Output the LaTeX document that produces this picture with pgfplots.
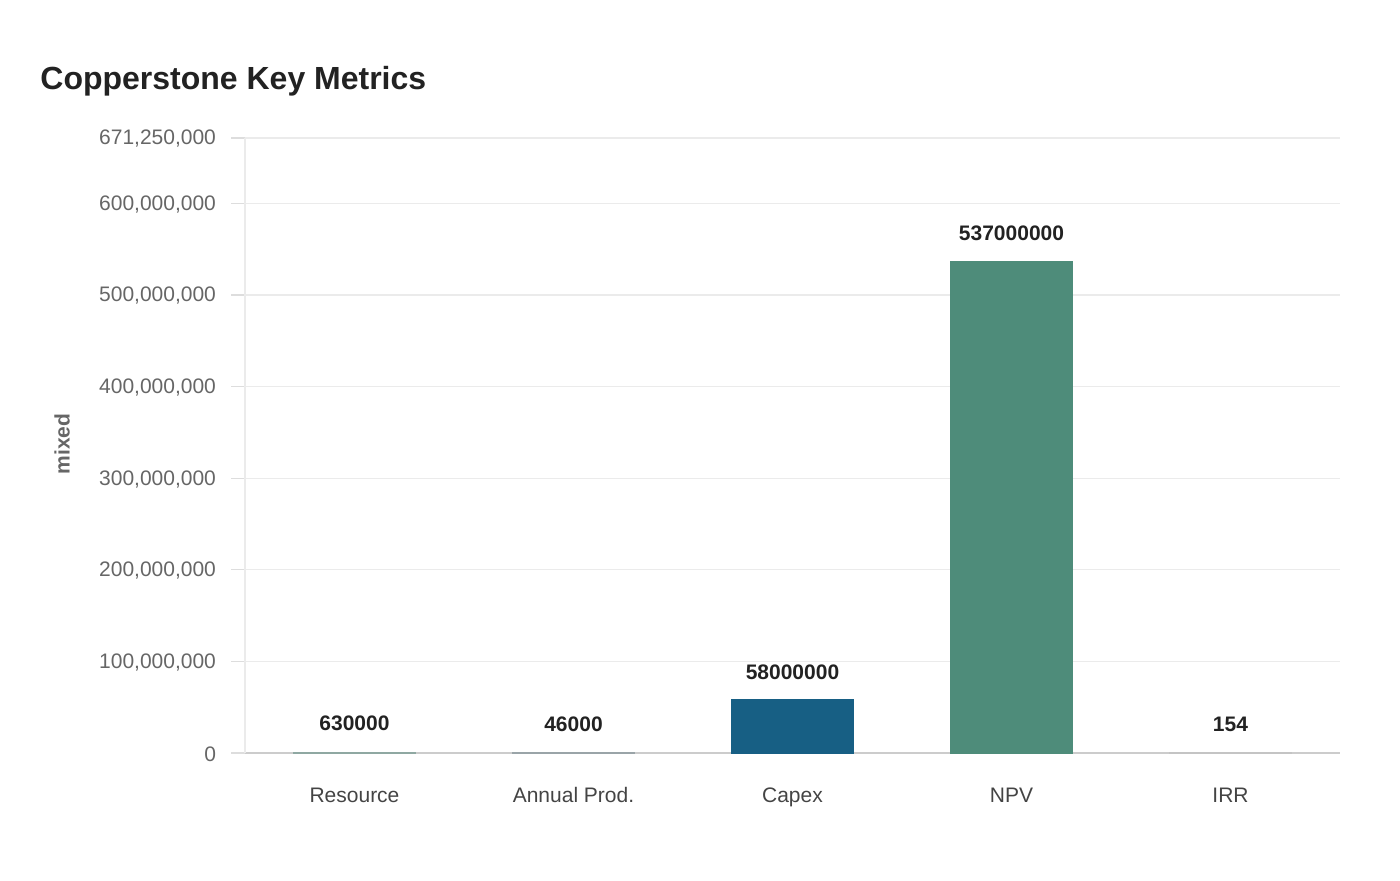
\documentclass[border=0pt]{standalone}
\usepackage{pgfplots}
\pgfplotsset{compat=1.18}
\usepackage{fontspec}
\setmainfont{Liberation Sans}
\definecolor{gridc}{HTML}{EBEBEB}
\definecolor{axisc}{HTML}{CCCCCC}
\definecolor{ytickc}{HTML}{DDDDDD}
\definecolor{tickc}{HTML}{666666}
\definecolor{catc}{HTML}{444444}
\definecolor{titlec}{HTML}{222222}
\definecolor{cres}{HTML}{8FA8A2}
\definecolor{cann}{HTML}{9AA4A8}
\definecolor{ccap}{HTML}{175F84}
\definecolor{cnpv}{HTML}{4E8C7A}
\definecolor{cirr}{HTML}{C4C4C4}
\begin{document}
\begin{tikzpicture}
\path[use as bounding box] (0,0) rectangle (700pt,440pt);
\node[anchor=west,font=\bfseries\fontsize{16}{18}\selectfont,text=titlec,inner sep=0pt] at (20pt,399.5pt) {Copperstone Key Metrics};
\node[rotate=90,font=\bfseries\fontsize{10.5}{12}\selectfont,text=tickc,inner sep=0pt] at (31pt,218pt) {mixed};
\begin{axis}[
  at={(122.5pt,63.5pt)}, anchor=south west,
  scale only axis, width=547.5pt, height=307.5pt,
  xmin=-0.5, xmax=4.5, ymin=0, ymax=671250000,
  ybar, bar width=0.557, bar shift=0pt,
  xtick={0,1,2,3,4},
  xticklabels={Resource,Annual Prod.,Capex,NPV,IRR},
  xtick style={draw=none},
  xticklabel style={font=\fontsize{10.5}{12}\selectfont,text=catc,anchor=base,yshift=-17.5pt},
  ytick={0,100000000,200000000,300000000,400000000,500000000,600000000,671250000},
  yticklabels={0,{100,000,000},{200,000,000},{300,000,000},{400,000,000},{500,000,000},{600,000,000},{671,250,000}},
  yticklabel style={font=\fontsize{10.5}{12}\selectfont,text=tickc,xshift=-4pt,yshift=-0.5pt},
  scaled y ticks=false,
  tick align=outside, major tick length=7pt,
  ytick style={draw=ytickc,line width=0.6pt},
  ymajorgrids, grid style={draw=gridc,line width=0.6pt},
  axis x line*=bottom, axis y line*=left,
  x axis line style={draw=axisc,line width=0.8pt},
  y axis line style={draw=gridc,line width=0.8pt},
  axis line style={-},
  nodes near coords,
  point meta=explicit symbolic,
  every node near coord/.append style={font=\bfseries\fontsize{10.5}{12}\selectfont,text=titlec,anchor=south,yshift=7pt},
  clip=false,
]
\addplot[fill=cres,draw=cres,line width=0.6pt] coordinates {(0,630000)[630000]};
\addplot[fill=cann,draw=cann,line width=0.6pt] coordinates {(1,46000)[46000]};
\addplot[fill=ccap,draw=ccap,line width=0pt] coordinates {(2,58000000)[58000000]};
\addplot[fill=cnpv,draw=cnpv,line width=0pt] coordinates {(3,537000000)[537000000]};
\addplot[fill=cirr,draw=cirr,line width=0.6pt] coordinates {(4,154)[154]};
\end{axis}
\end{tikzpicture}
\end{document}
